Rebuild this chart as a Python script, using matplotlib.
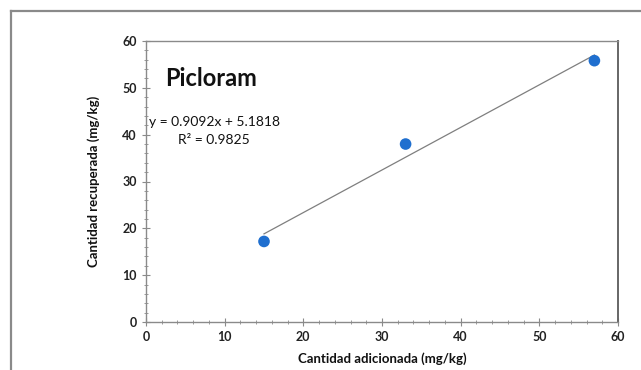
import matplotlib
matplotlib.use("Agg")
import matplotlib.pyplot as plt
from matplotlib.ticker import MultipleLocator
from matplotlib.lines import Line2D

plt.rcParams['font.family'] = ['Lato', 'DejaVu Sans']

added = [15, 33, 57]
recovered = [17.2, 38.0, 55.8]
slope = 0.9092
intercept = 5.1818
eq_text = "y = 0.9092x + 5.1818"
r2_text = "R² = 0.9825"
title_text = "Picloram"
xlabel = "Cantidad adicionada (mg/kg)"
ylabel = "Cantidad recuperada (mg/kg)"

W, H = 641, 370
fig = plt.figure(figsize=(W/100, H/100), dpi=100)

# outer frame lines (top and left)
fig.add_artist(Line2D([11/W, 1], [1-11/H, 1-11/H], color='#8a8a8a', lw=1.6, transform=fig.transFigure))
fig.add_artist(Line2D([11/W, 11/W], [0, 1-11/H], color='#8a8a8a', lw=1.6, transform=fig.transFigure))

ax = fig.add_axes([146/W, 1-322/H, (618-146)/W, (322-41)/H])
ax.set_xlim(0, 60)
ax.set_ylim(0, 60)

trend_x = [min(added), max(added)]
trend_y = [slope*v + intercept for v in trend_x]
ax.plot(trend_x, trend_y, color='#7f7f7f', lw=0.9, zorder=2)
ax.scatter(added, recovered, s=70, color='#1f6fcf', zorder=3, edgecolors='none')

ax.xaxis.set_major_locator(MultipleLocator(10))
ax.yaxis.set_major_locator(MultipleLocator(10))
ax.xaxis.set_minor_locator(MultipleLocator(2))
ax.yaxis.set_minor_locator(MultipleLocator(2))
ax.tick_params(which='major', direction='inout', length=6, width=0.8, color='#8a8a8a', labelsize=9, colors='#222222')
ax.tick_params(which='minor', direction='inout', length=3, width=0.6, color='#9a9a9a')
ax.tick_params(axis='both', which='both', color='#8a8a8a')
for lbl in ax.get_xticklabels() + ax.get_yticklabels():
    lbl.set_fontweight('bold')
for sp in ax.spines.values():
    sp.set_color('#8a8a8a')
    sp.set_linewidth(1.0)
ax.spines['right'].set_color('#666666')
ax.spines['right'].set_linewidth(1.4)

ax.set_xlabel(xlabel, fontsize=9.5, fontweight='bold', labelpad=7, color='#111111')
ax.set_ylabel(ylabel, fontsize=9.5, fontweight='bold', labelpad=16, color='#111111')

ax.text(0.04, 0.865, title_text, transform=ax.transAxes, fontsize=17, fontweight='bold', ha='left', va='center', color='#111111')
fig.text(214/W, 1-122/H, eq_text, fontsize=10, ha='center', va='center', color='#111111')
fig.text(214/W, 1-140/H, r2_text, fontsize=10, ha='center', va='center', color='#111111')

fig.savefig("out.png", dpi=100, facecolor='white')
